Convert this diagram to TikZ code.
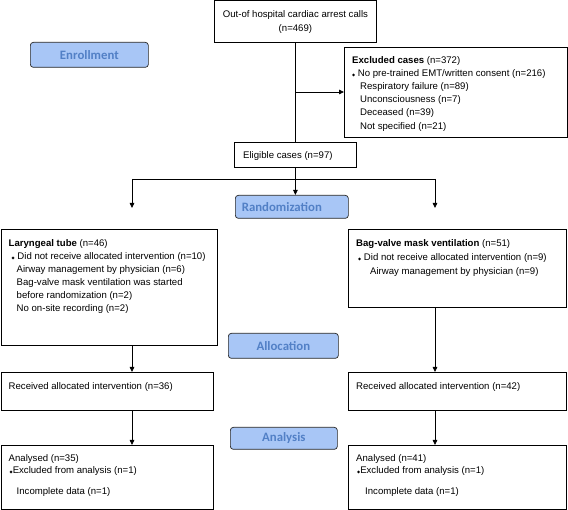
\documentclass[tikz,border=0pt]{standalone}
\usepackage{fontspec}
\setmainfont{Liberation Sans}
\newfontfamily\stagefont{Carlito}
\newfontfamily\markfont{DejaVu Sans}
\usetikzlibrary{arrows.meta}

\definecolor{stagefill}{RGB}{168,198,246}
\definecolor{stagetext}{RGB}{82,128,198}
\newcommand{\bul}{{\markfont\fontsize{4}{4}\selectfont ◆}}

\tikzset{
	flowbox/.style={draw, line width=0.8pt, anchor=north west, inner sep=0pt},
	stage/.style={draw=black!85, line width=0.7pt, rounded corners=3pt, fill=stagefill,
		text=stagetext, font=\stagefont\bfseries\fontsize{12.8}{13}\selectfont,
		anchor=north west, inner sep=0pt},
	boxtext/.style={anchor=north west, inner sep=0pt, align=left,
		font=\fontsize{9.6}{13}\selectfont},
	flow/.style={-{Triangle[length=5pt,width=4.5pt]}, line width=0.8pt}
}

\begin{document}
\begin{tikzpicture}[x=1pt, y=-1pt]
	\useasboundingbox (0,0) rectangle (568,510);

	% enrollment
	\node[flowbox, minimum width=162pt, minimum height=42pt, align=center,
		font=\fontsize{9.6}{13.5}\selectfont] (calls) at (214,0.5)
		{Out-of hospital cardiac arrest calls\\(n=469)};
	\node[stage, minimum width=118pt, minimum height=25pt] (enroll) at (30,42) {Enrollment};
	\node[flowbox, minimum width=222.5pt, minimum height=90pt] (excl) at (344,47) {};
	\node[boxtext, font=\fontsize{9.6}{13.2}\selectfont] (excltxt) at ([shift={(8,9)}]excl.north west)
		{\textbf{Excluded cases} (n=372)\\
		 \bul\ No pre-trained EMT/written consent (n=216)\\
		 \hspace*{8pt}Respiratory failure (n=89)\\
		 \hspace*{8pt}Unconsciousness (n=7)\\
		 \hspace*{8pt}Deceased (n=39)\\
		 \hspace*{8pt}Not specified (n=21)};
	\node[flowbox, minimum width=122pt, minimum height=25pt] (elig) at (234,142) {};
	\node[boxtext] (eligtxt) at ([shift={(9,9)}]elig.north west) {Eligible cases (n=97)};

	\coordinate (tap) at (295,92);
	\draw[line width=0.8pt] (calls.south) -- (elig.north);
	\draw[flow] (tap) -- (tap -| excl.west);

	% randomization
	\node[stage, minimum width=113pt, minimum height=23pt] (rand) at (235,195)
		{Randomization\hspace*{20pt}};
	\coordinate (lbr) at (132,179);
	\coordinate (rbr) at (435,179);
	\coordinate (lend) at (132,208);
	\coordinate (rend) at (435,208);
	\draw[flow] (elig.south) -- (elig.south |- rand.north);
	\draw[line width=0.8pt] (lbr) -- (rbr);
	\draw[flow] (lbr) -- (lend);
	\draw[flow] (rbr) -- (rend);

	% allocation
	\node[flowbox, minimum width=216.5pt, minimum height=116pt] (lar) at (0.5,229) {};
	\node[boxtext] (lartxt) at ([shift={(8,10)}]lar.north west)
		{\textbf{Laryngeal tube} (n=46)\\
		 \hspace*{3pt}\bul\ Did not receive allocated intervention (n=10)\\
		 \hspace*{8pt}Airway management by physician (n=6)\\
		 \hspace*{8pt}Bag-valve mask ventilation was started\\
		 \hspace*{8pt}before randomization (n=2)\\
		 \hspace*{8pt}No on-site recording (n=2)};
	\node[flowbox, minimum width=218pt, minimum height=78pt] (bag) at (348,229) {};
	\node[boxtext, font=\fontsize{9.6}{14}\selectfont] (bagtxt) at ([shift={(8,10)}]bag.north west)
		{\textbf{Bag-valve mask ventilation} (n=51)\\
		 \hspace*{2pt}\bul\ Did not receive allocated intervention (n=9)\\
		 \hspace*{14pt}Airway management by physician (n=9)};
	\node[stage, minimum width=110pt, minimum height=25pt] (alloc) at (228,333) {Allocation};

	\node[flowbox, minimum width=212.5pt, minimum height=38pt] (lrec) at (0.5,372) {};
	\node[boxtext] (lrectxt) at ([shift={(8,10)}]lrec.north west)
		{Received allocated intervention (n=36)};
	\node[flowbox, minimum width=218pt, minimum height=38pt] (rrec) at (348,372) {};
	\node[boxtext] (rrectxt) at ([shift={(8,10)}]rrec.north west)
		{Received allocated intervention (n=42)};
	\draw[flow] (lar.south -| lend) -- (lrec.north -| lend);
	\draw[flow] (bag.south -| rend) -- (rrec.north -| rend);

	% analysis
	\node[stage, minimum width=107pt, minimum height=22pt] (anal) at (230,427) {Analysis};
	\node[flowbox, minimum width=212.5pt, minimum height=64.5pt] (lana) at (0.5,445) {};
	\node[boxtext, font=\fontsize{9.6}{12}\selectfont] (lanatxt) at ([shift={(8,9)}]lana.north west)
		{Analysed (n=35)\\
		 \hspace*{1pt}\bul Excluded from analysis (n=1)\\[9pt]
		 \hspace*{8pt}Incomplete data (n=1)};
	\node[flowbox, minimum width=218pt, minimum height=64.5pt] (rana) at (348,445) {};
	\node[boxtext, font=\fontsize{9.6}{12}\selectfont] (ranatxt) at ([shift={(8,9)}]rana.north west)
		{Analysed (n=41)\\
		 \hspace*{1pt}\bul Excluded from analysis (n=1)\\[9pt]
		 \hspace*{9pt}Incomplete data (n=1)};
	\draw[flow] (lrec.south -| lend) -- (lana.north -| lend);
	\draw[flow] (rrec.south -| rend) -- (rana.north -| rend);
\end{tikzpicture}
\end{document}
